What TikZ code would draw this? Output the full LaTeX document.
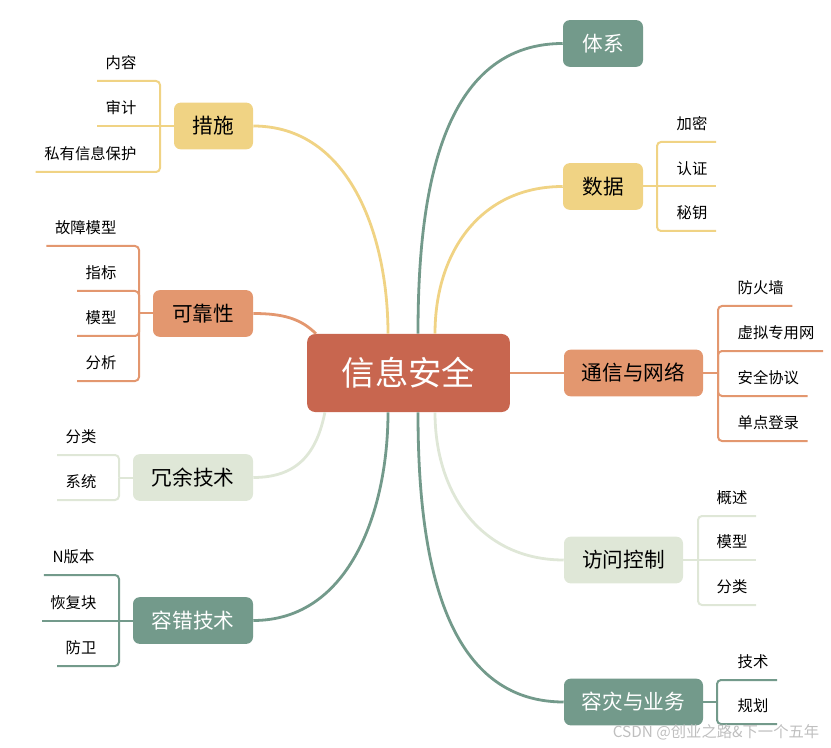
\documentclass[tikz,border=0pt]{standalone}
\usepackage{fontspec}
\newfontfamily\cjk{Noto Sans CJK SC}
\usetikzlibrary{calc}

\definecolor{hong}{RGB}{200,102,79}
\definecolor{huang}{RGB}{240,211,132}
\definecolor{cheng}{RGB}{227,151,111}
\definecolor{qianlv}{RGB}{223,231,215}
\definecolor{molv}{RGB}{115,154,139}

\begin{document}
\begin{tikzpicture}[x=0.75pt, y=-0.75pt,
      root/.style={rectangle, rounded corners=6pt, fill=hong, text=white, minimum width=152pt, minimum height=58.5pt, font=\cjk\fontsize{25}{30}\selectfont},
      topic/.style={rectangle, rounded corners=5pt, minimum height=35pt, font=\cjk\fontsize{15.5}{18}\selectfont},
      leafL/.style={anchor=south east, inner xsep=6.3pt, inner ysep=0pt, text height=9pt, text depth=9pt, font=\cjk\fontsize{11.5}{14}\selectfont},
      leafR/.style={leafL, anchor=south west},
      branch/.style={line width=2.1pt},
      twig/.style={line width=1.5pt, rounded corners=3pt}]

      \useasboundingbox (0,0) rectangle (831,748);

      % Topics
      \node[root] (xxaq) at (408.5,373) {信息安全};
      \node[topic, fill=huang, minimum width=59.25pt] (cuoshi) at (213.5,126) {措施};
      \node[topic, fill=cheng, minimum width=75pt] (kkx) at (203,313.5) {可靠性};
      \node[topic, fill=qianlv, minimum width=90pt] (rongyu) at (193,477.5) {冗余技术};
      \node[topic, fill=molv, text=white, minimum width=90pt] (rongcuo) at (193,620.5) {容错技术};
      \node[topic, fill=molv, text=white, minimum width=60pt] (tixi) at (603,43.5) {体系};
      \node[topic, fill=huang, minimum width=60pt] (shuju) at (603,186.5) {数据};
      \node[topic, fill=cheng, minimum width=104.25pt] (txwl) at (633.5,373) {通信与网络};
      \node[topic, fill=qianlv, minimum width=89.25pt] (fwkz) at (623.5,560) {访问控制};
      \node[topic, fill=molv, text=white, minimum width=104.25pt] (rzyw) at (633.5,702) {容灾与业务};

      % Branches
      \draw[branch, huang] ($(xxaq.north)+(-20.5,0)$) .. controls +(0,-97) and +(97,0) .. (cuoshi.east);
      \draw[branch, cheng] ($(xxaq.north west)+(9,0)$) .. controls +(-15,-15) and +(30,0) .. (kkx.east);
      \draw[branch, qianlv] ($(xxaq.south west)+(18,0)$) .. controls +(-8,40) and +(45,0) .. (rongyu.east);
      \draw[branch, molv] ($(xxaq.south)+(-20.5,0)$) .. controls +(0,97) and +(97,0) .. (rongcuo.east);
      \draw[branch, molv] ($(xxaq.north)+(9.5,0)$) .. controls +(0,-127) and +(-127,0) .. (tixi.west);
      \draw[branch, huang] ($(xxaq.north)+(26.5,0)$) .. controls +(0,-82) and +(-82,0) .. (shuju.west);
      \draw[branch, cheng] (xxaq.east) -- (txwl.west);
      \draw[branch, qianlv] ($(xxaq.south)+(26.5,0)$) .. controls +(0,82) and +(-82,0) .. (fwkz.west);
      \draw[branch, molv] ($(xxaq.south)+(9.5,0)$) .. controls +(0,127) and +(-127,0) .. (rzyw.west);

      % Leaves, left side
      \node[leafL] (nr) at (145,81) {内容};
      \node[leafL] (sj) at (145,126) {审计};
      \node[leafL] (syxx) at (145,172) {私有信息保护};
      \coordinate (csj) at (160,126);
      \draw[twig, huang] (cuoshi.west) -- (csj) -- (sj.south west);
      \foreach \l in {nr, syxx}
        \draw[twig, huang] (csj) |- (\l.south west);

      \node[leafL] (gzmx) at (125,246) {故障模型};
      \node[leafL] (zb) at (125,291) {指标};
      \node[leafL] (mxa) at (125,336) {模型};
      \node[leafL] (fx) at (125,381) {分析};
      \coordinate (kkxj) at (139,313.5);
      \draw[twig, cheng] (kkx.west) -- (kkxj);
      \foreach \l in {gzmx, zb, mxa, fx}
        \draw[twig, cheng] (kkxj) |- (\l.south west);

      \node[leafL] (fla) at (105,455) {分类};
      \node[leafL] (xt) at (105,500) {系统};
      \coordinate (ryj) at (119,477.5);
      \draw[twig, qianlv] (rongyu.west) -- (ryj);
      \foreach \l in {fla, xt}
        \draw[twig, qianlv] (ryj) |- (\l.south west);

      \node[leafL] (nbb) at (103,575) {N版本};
      \node[leafL] (hfk) at (105,620.5) {恢复块};
      \node[leafL] (fw) at (105,666) {防卫};
      \coordinate (rcj) at (119,620.5);
      \draw[twig, molv] (rongcuo.west) -- (rcj) -- (hfk.south west);
      \foreach \l in {nbb, fw}
        \draw[twig, molv] (rcj) |- (\l.south west);

      % Leaves, right side
      \node[leafR] (jm) at (668,142) {加密};
      \node[leafR] (rz) at (668,186.5) {认证};
      \node[leafR] (my) at (668,231) {秘钥};
      \coordinate (sjj) at (657,186.5);
      \draw[twig, huang] (shuju.east) -- (sjj) -- (rz.south east);
      \foreach \l in {jm, my}
        \draw[twig, huang] (sjj) |- (\l.south east);

      \node[leafR] (fhq) at (729,306) {防火墙};
      \node[leafR] (xnzy) at (729,351) {虚拟专用网};
      \node[leafR] (aqxy) at (729,396) {安全协议};
      \node[leafR] (dddl) at (729,441) {单点登录};
      \coordinate (txj) at (718,373);
      \draw[twig, cheng] (txwl.east) -- (txj);
      \foreach \l in {fhq, xnzy, aqxy, dddl}
        \draw[twig, cheng] (txj) |- (\l.south east);

      \node[leafR] (gs) at (708,516) {概述};
      \node[leafR] (mxb) at (708,560) {模型};
      \node[leafR] (flb) at (708,605) {分类};
      \coordinate (fwj) at (698,560);
      \draw[twig, qianlv] (fwkz.east) -- (fwj) -- (mxb.south east);
      \foreach \l in {gs, flb}
        \draw[twig, qianlv] (fwj) |- (\l.south east);

      \node[leafR] (js) at (729,680) {技术};
      \node[leafR] (gh) at (729,724) {规划};
      \coordinate (rzj) at (717,702);
      \draw[twig, molv] (rzyw.east) -- (rzj);
      \foreach \l in {js, gh}
        \draw[twig, molv] (rzj) |- (\l.south east);

      % Watermark
      \node[text=gray!50, font=\cjk\fontsize{11.5}{13}\selectfont] (sy) at (716,732) {CSDN @创业之路\&下一个五年};
\end{tikzpicture}
\end{document}
